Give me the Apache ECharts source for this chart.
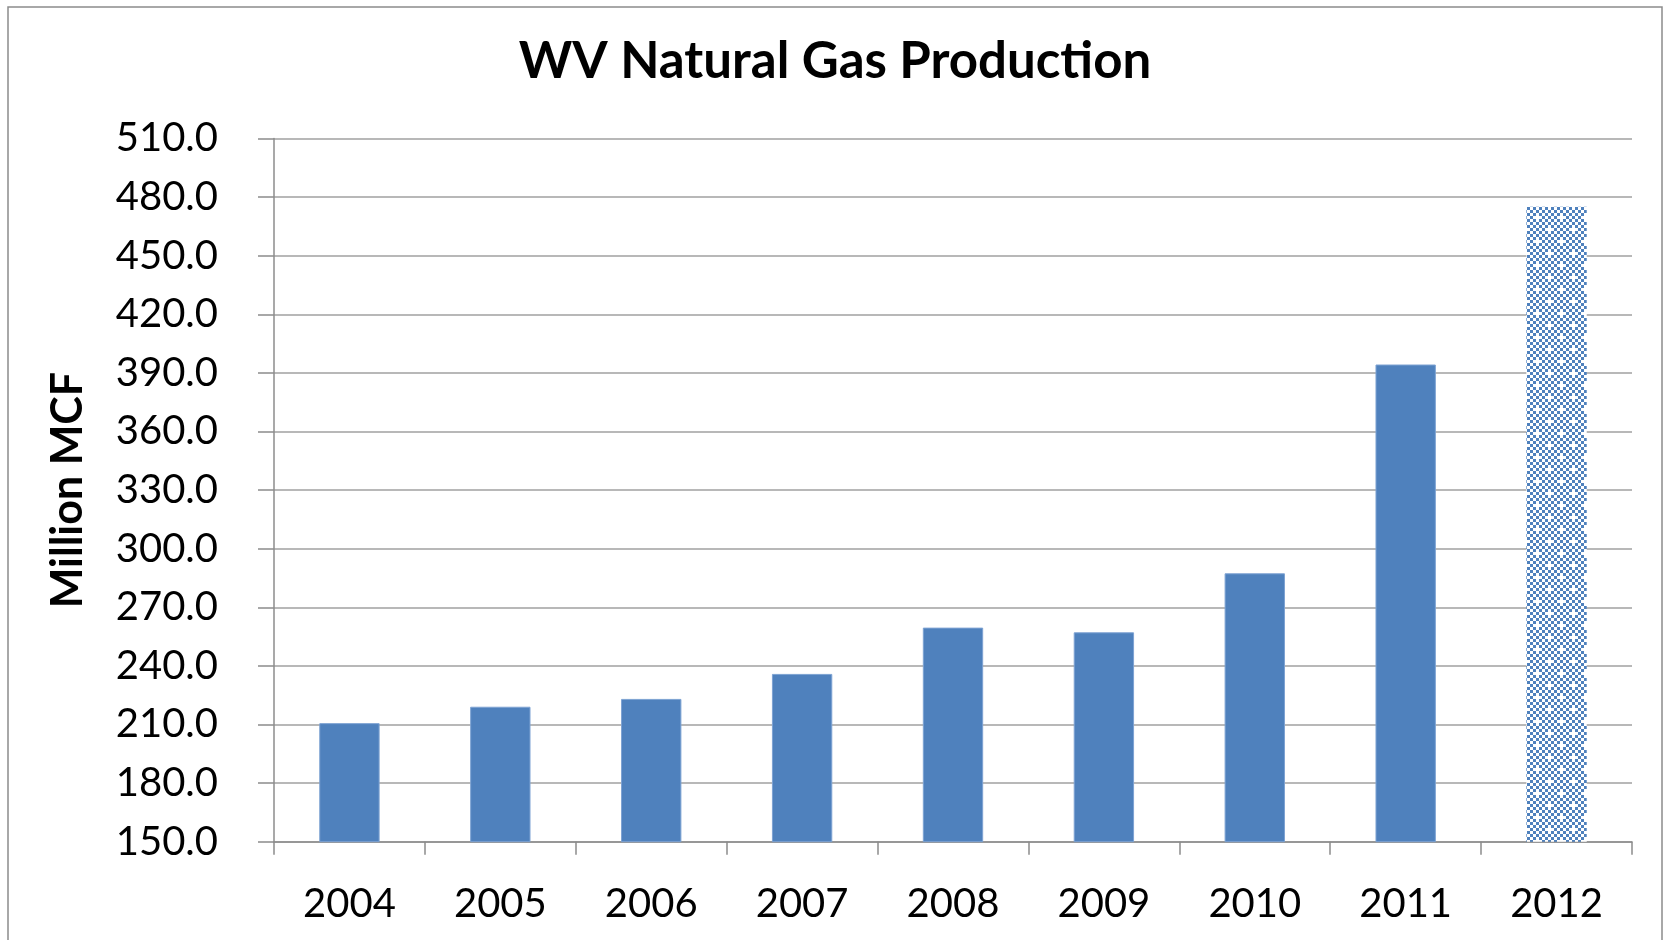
<!DOCTYPE html>
<html><head><meta charset="utf-8">
<script src="https://cdn.jsdelivr.net/npm/echarts@6/dist/echarts.min.js"></script>
<style>html,body{margin:0;padding:0;background:#fff}#c{width:1664px;height:940px}</style>
</head><body><div id="c"></div>
<script>
const categories = ['2004','2005','2006','2007','2008','2009','2010','2011','2012'];
const values = [210.7, 219.1, 223.1, 235.9, 259.6, 257.2, 287.4, 394.3, 475.0];
const patternIndex = 8; // 2012 drawn with checker pattern
const yTicks = {min:150, max:510, interval:30};

function makePattern(){
  const c = document.createElement('canvas');
  c.width = 24; c.height = 24;
  const g = c.getContext('2d');
  g.fillStyle = '#fff'; g.fillRect(0,0,24,24);
  g.fillStyle = '#4F81BD';
  for (let i=0;i<8;i++) for (let j=0;j<8;j++) if ((i+j)%2===0) g.fillRect(i*3,j*3,3,3);
  g.fillStyle = '#fff';
  g.fillRect(9,12,6,3); g.fillRect(12,9,3,9);
  g.fillRect(0,0,3,3);
  return c;
}
const pat = {image: makePattern(), repeat: 'repeat'};
const font = 'Lato, "Open Sans", sans-serif';
const chart = echarts.init(document.getElementById('c'));
chart.setOption({
  animation:false,
  title:{text:'WV Natural Gas Production', left:830, top:31, textAlign:'center',
    textStyle:{fontFamily:font, fontWeight:'bold', fontSize:51, color:'#000'}},
  graphic:[{type:'rect', shape:{x:8,y:7,width:1654,height:960}, style:{fill:'none', stroke:'#8c8c8c', lineWidth:1.5}, silent:true}],
  grid:{left:274, right:32, top:138.5, bottom:98.3},
  xAxis:{type:'category', data:categories,
    axisLine:{show:true, lineStyle:{color:'#8c8c8c', width:1.5}},
    axisTick:{show:true, length:13, lineStyle:{color:'#8c8c8c', width:1.5}},
    axisLabel:{fontFamily:font, fontSize:40, color:'#000', margin:42}},
  yAxis:{type:'value', min:yTicks.min, max:yTicks.max, interval:yTicks.interval,
    name:'Million MCF', nameLocation:'middle', nameGap:184, nameRotate:90,
    nameTextStyle:{fontFamily:font, fontWeight:'bold', fontSize:43, color:'#000'},
    axisLine:{show:true, lineStyle:{color:'#8c8c8c', width:1.5}},
    axisTick:{show:true, length:16, lineStyle:{color:'#8c8c8c', width:1.5}},
    splitLine:{lineStyle:{color:'#a0a0a0', width:1.5}},
    axisLabel:{fontFamily:font, fontSize:40, color:'#000', margin:56, formatter:v=>v.toFixed(1)}},
  series:[{type:'bar', barCategoryGap:'60%',
    data: values.map((v,i)=> i===patternIndex ? {value:v, itemStyle:{color:pat, borderWidth:0}} : v),
    itemStyle:{color:'#4F81BD', borderColor:'#7ea3d3', borderWidth:1}}]
});
</script></body></html>
